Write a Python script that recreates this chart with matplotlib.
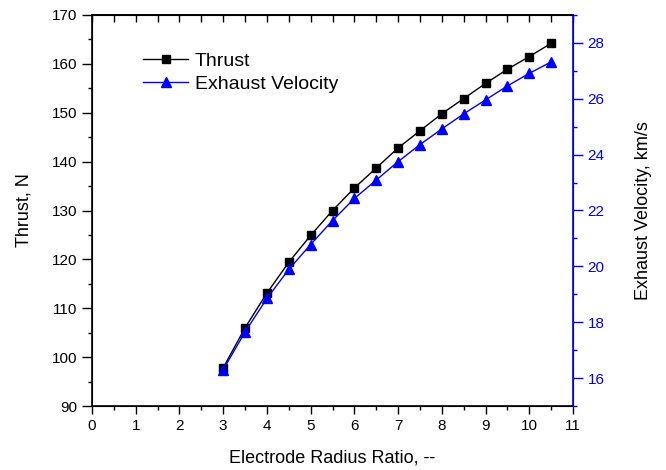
import matplotlib
matplotlib.use("Agg")
import matplotlib.pyplot as plt
from matplotlib.ticker import MultipleLocator, NullFormatter

plt.rcParams['font.family'] = ['Liberation Sans', 'DejaVu Sans']

ratio = [3, 3.5, 4, 4.5, 5, 5.5, 6, 6.5, 7, 7.5, 8, 8.5, 9, 9.5, 10, 10.5]
thrust = [97.8, 106.0, 113.1, 119.4, 124.9, 130.0, 134.6, 138.7, 142.8, 146.3,
          149.8, 152.9, 156.0, 158.9, 161.5, 164.2]
velocity = [16.3, 17.65, 18.85, 19.89, 20.78, 21.64, 22.43, 23.09, 23.75, 24.36,
            24.92, 25.46, 25.96, 26.46, 26.91, 27.32]

fig = plt.figure(figsize=(6.66, 4.70), dpi=100)
ax = fig.add_axes([92/666, 1-406/470, (573-92)/666, (406-15)/470])
ax2 = ax.twinx()

l1, = ax.plot(ratio, thrust, color='black', marker='s', markersize=5.5, lw=1, label='Thrust')
l2, = ax2.plot(ratio, velocity, color='blue', marker='^', markersize=7, lw=1, label='Exhaust Velocity')

ax.set_xlim(0, 11)
ax.set_ylim(90, 170)
ax2.set_ylim(15, 29)

ax.xaxis.set_major_locator(MultipleLocator(1))
ax.xaxis.set_minor_locator(MultipleLocator(0.5))
ax.yaxis.set_major_locator(MultipleLocator(10))
ax.yaxis.set_minor_locator(MultipleLocator(5))
ax2.yaxis.set_major_locator(MultipleLocator(2))
ax2.yaxis.set_minor_locator(MultipleLocator(1))

ax.tick_params(axis='x', which='major', direction='out', length=6, width=1, labelsize=11)
ax.tick_params(axis='x', which='minor', direction='out', length=3, width=1)
ax.tick_params(axis='y', which='major', direction='out', length=7, width=1, labelsize=11)
ax.tick_params(axis='y', which='minor', direction='out', length=3, width=1)
ax2.tick_params(axis='y', which='major', direction='out', length=7, width=1,
                labelsize=11, colors='blue')
ax2.tick_params(axis='y', which='minor', direction='out', length=3, width=1,
                colors='blue')

# top axis with inward ticks, no labels
top = ax.secondary_xaxis('top')
top.xaxis.set_major_locator(MultipleLocator(1))
top.xaxis.set_minor_locator(MultipleLocator(0.5))
top.xaxis.set_major_formatter(NullFormatter())
top.tick_params(axis='x', which='major', direction='in', length=5, width=1)
top.tick_params(axis='x', which='minor', direction='in', length=5, width=1)
top.spines['top'].set_linewidth(1.2)

ax2.spines['right'].set_color('blue')
ax2.spines['right'].set_linewidth(1.2)
for s in ['left', 'bottom', 'top']:
    ax.spines[s].set_linewidth(1.2)

ax.set_xlabel('Electrode Radius Ratio, --', fontsize=13, labelpad=12)
ax.set_ylabel('Thrust, N', fontsize=13, labelpad=14)
ax2.set_ylabel('Exhaust Velocity, km/s', fontsize=13, labelpad=22)

ax.legend(handles=[l1, l2], loc='upper left', bbox_to_anchor=(0.07, 0.95),
          frameon=False, fontsize=14, handlelength=2.3, handletextpad=0.36,
          labelspacing=0.27)

fig.savefig('out.png', dpi=100)
